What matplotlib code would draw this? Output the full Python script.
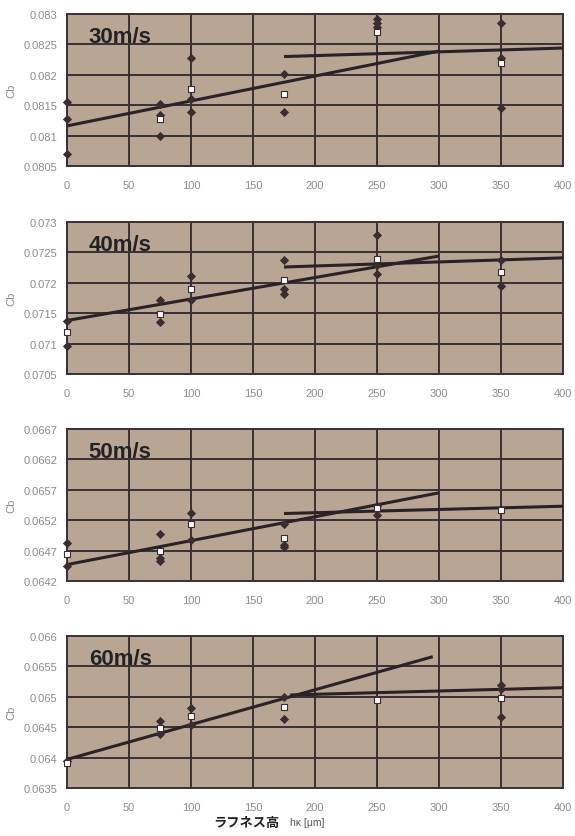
import matplotlib
matplotlib.use("Agg")
import matplotlib.pyplot as plt
import numpy as np

# 速度ごとの Cb データ
speeds = ["30m/s", "40m/s", "50m/s", "60m/s"]
xticks = [0, 50, 100, 150, 200, 250, 300, 350, 400]

ylims = [(0.0805, 0.083), (0.0705, 0.073), (0.0642, 0.0667), (0.0635, 0.066)]
ytick_labels = [
    ["0.0805", "0.081", "0.0815", "0.082", "0.0825", "0.083"],
    ["0.0705", "0.071", "0.0715", "0.072", "0.0725", "0.073"],
    ["0.0642", "0.0647", "0.0652", "0.0657", "0.0662", "0.0667"],
    ["0.0635", "0.064", "0.0645", "0.065", "0.0655", "0.066"],
]

# 個々の測定値 (黒)
dark_x_30 = [0, 0, 0, 75, 75, 75, 100, 100, 100, 175, 175, 250, 250, 250, 350, 350, 350]
dark_y_30 = [0.08155, 0.08127, 0.08070, 0.08152, 0.08134, 0.08099, 0.08227, 0.08161, 0.08138,
             0.08202, 0.08138, 0.08292, 0.08286, 0.08278, 0.08285, 0.08227, 0.08146]
dark_x_40 = [0, 0, 75, 75, 100, 100, 175, 175, 175, 250, 250, 250, 350, 350]
dark_y_40 = [0.07137, 0.07096, 0.07171, 0.07135, 0.07212, 0.07172, 0.07237, 0.07190, 0.07182,
             0.07278, 0.07230, 0.07215, 0.07237, 0.07194]
dark_x_50 = [0, 0, 75, 75, 75, 100, 100, 175, 175, 175, 250, 250]
dark_y_50 = [0.06483, 0.06445, 0.06498, 0.06458, 0.06453, 0.06532, 0.06488, 0.06514, 0.06479,
             0.06476, 0.06544, 0.06529]
dark_x_60 = [0, 75, 75, 100, 100, 175, 175, 350, 350, 350]
dark_y_60 = [0.06394, 0.06461, 0.06439, 0.06481, 0.06454, 0.06499, 0.06464, 0.06519, 0.06513,
             0.06467]

# 平均値 (白)
mean_x_30 = [75, 100, 175, 250, 350]
mean_y_30 = [0.08128, 0.08176, 0.08168, 0.08270, 0.08220]
mean_x_40 = [0, 75, 100, 175, 250, 350]
mean_y_40 = [0.07119, 0.07148, 0.07189, 0.07204, 0.07239, 0.07217]
mean_x_50 = [0, 75, 100, 175, 250, 350]
mean_y_50 = [0.06464, 0.06469, 0.06513, 0.06491, 0.06540, 0.06536]
mean_x_60 = [0, 75, 100, 175, 250, 350]
mean_y_60 = [0.06391, 0.06448, 0.06469, 0.06483, 0.06494, 0.06498]

# 近似直線 (端点)
slope_x = [[0, 300], [0, 300], [0, 300], [0, 295]]
slope_y = [[0.08116, 0.08239], [0.07138, 0.07244], [0.06447, 0.06565], [0.06397, 0.06566]]
flat_x = [[175, 400], [175, 400], [175, 400], [180, 400]]
flat_y = [[0.08230, 0.08244], [0.07226, 0.07241], [0.06531, 0.06543], [0.06503, 0.06515]]

dark_x = [dark_x_30, dark_x_40, dark_x_50, dark_x_60]
dark_y = [dark_y_30, dark_y_40, dark_y_50, dark_y_60]
mean_x = [mean_x_30, mean_x_40, mean_x_50, mean_x_60]
mean_y = [mean_y_30, mean_y_40, mean_y_50, mean_y_60]

W, H = 575, 837
fig = plt.figure(figsize=(W / 100, H / 100), dpi=100)
fig.patch.set_facecolor("white")

left, right = 67, 563
tops = [15, 223, 430, 637]
ph = 152
bg = "#b9a593"
grid_c = "#3a3035"
ink = "#2a2226"
tick_c = "#8c8c8c"

for i in range(4):
    ax = fig.add_axes([left / W, 1 - (tops[i] + ph) / H, (right - left) / W, ph / H])
    ax.set_facecolor(bg)
    lo, hi = ylims[i]
    yt = np.linspace(lo, hi, 6)
    ax.set_xlim(0, 400)
    ax.set_ylim(lo, hi)
    ax.set_xticks(xticks)
    ax.set_xticklabels([str(v) for v in xticks])
    ax.set_yticks(yt)
    ax.set_yticklabels(ytick_labels[i])
    ax.tick_params(length=0, pad=7, labelsize=8, labelcolor=tick_c)
    for lab in ax.get_xticklabels() + ax.get_yticklabels():
        lab.set_family("Liberation Sans")
    ax.tick_params(axis="x", pad=10)
    ax.grid(True, color=grid_c, linewidth=1.4)
    ax.set_axisbelow(True)
    for sp in ax.spines.values():
        sp.set_color(grid_c)
        sp.set_linewidth(1.4)

    ax.plot(slope_x[i], slope_y[i], color=ink, linewidth=2.2, zorder=3, solid_capstyle="butt")
    ax.plot(flat_x[i], flat_y[i], color=ink, linewidth=2.2, zorder=3, solid_capstyle="butt")
    ax.scatter(dark_x[i], dark_y[i], marker="D", s=22, color="#3a2c30", zorder=4,
               clip_on=False, linewidths=0)
    ax.scatter(mean_x[i], mean_y[i], marker="s", s=16, facecolor="white",
               edgecolor="#3a2c30", linewidths=0.8, zorder=5, clip_on=False)

    ax.text(0.044, 0.815, speeds[i], transform=ax.transAxes, fontsize=16,
            fontweight="bold", family="Liberation Sans", color="#222222", va="baseline")
    ax.set_ylabel("Cb", fontsize=8, color=tick_c, family="Liberation Sans", labelpad=5)

fig.text(213 / W, 1 - 823 / H, "ラフネス高", fontsize=9.5, fontweight="bold",
         family=["Noto Sans CJK JP", "DejaVu Sans"], color="#222222", va="center", ha="left")
fig.text(290 / W, 1 - 823 / H, "hκ [μm]", fontsize=7.5,
         family=["Liberation Sans", "DejaVu Sans"], color="#555555", va="center", ha="left")

fig.savefig("out.png", dpi=100, facecolor="white")
